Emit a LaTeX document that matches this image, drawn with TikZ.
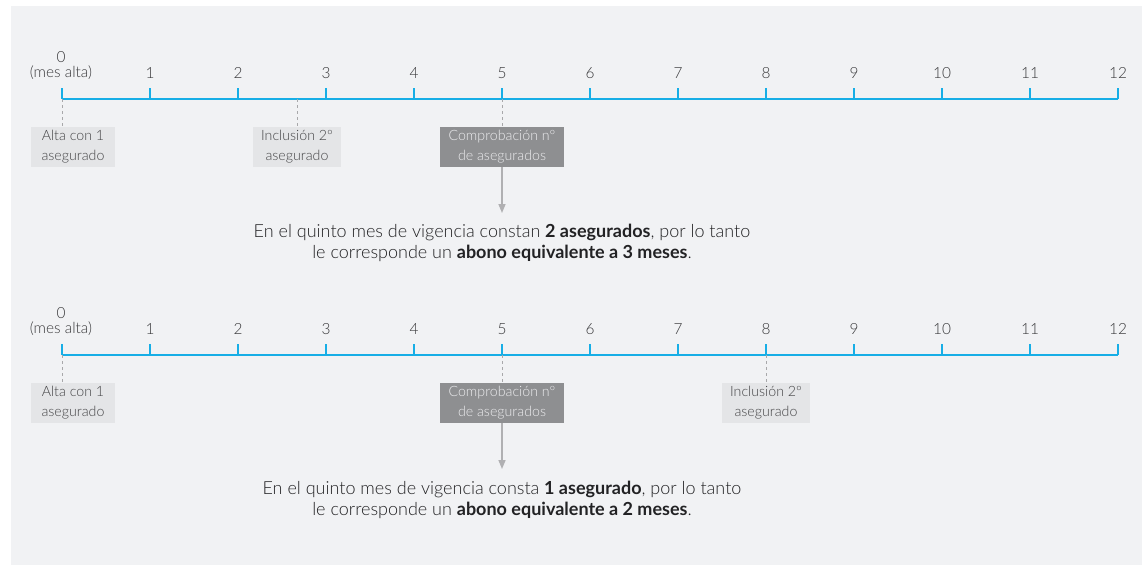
\documentclass[tikz,border=0pt]{standalone}
\usepackage{fontspec}
\setmainfont{Lato}[UprightFont=* Light, BoldFont=* Bold]
\usetikzlibrary{arrows.meta}
\definecolor{bg}{HTML}{F1F2F4}
\definecolor{tl}{HTML}{17AEE6}
\definecolor{lbox}{HTML}{E4E5E7}
\definecolor{dbox}{HTML}{8E8F91}
\definecolor{txt}{HTML}{222224}
\definecolor{ntxt}{HTML}{38383A}
\definecolor{btxt}{HTML}{444446}
\definecolor{dtxt}{HTML}{EDEDEF}
\definecolor{dashc}{HTML}{A8A8AA}
\definecolor{arrc}{HTML}{B0B0B2}
\tikzset{
  tline/.style={tl, line width=2pt},
  tick/.style={tl, line width=2pt},
  num/.style={text=ntxt, font=\fontsize{15.4}{17}\selectfont, inner sep=0pt},
  lightbox/.style={fill=lbox, text=btxt, minimum height=40pt, inner sep=0pt, align=center, font=\fontsize{14.2}{20}\selectfont},
  darkbox/.style={fill=dbox, text=dtxt, minimum height=40pt, inner sep=0pt, align=center, font=\fontsize{14.2}{20}\selectfont},
  guide/.style={dashc, line width=1pt, dash pattern=on 3pt off 3pt},
  pointer/.style={arrc, line width=1.5pt, -{Triangle[width=7pt,length=9pt]}},
  sentence/.style={text=txt, align=center, inner sep=0pt, font=\fontsize{18}{21}\selectfont}
}
\begin{document}
\begin{tikzpicture}[x=1pt,y=-1pt]
\useasboundingbox (0,0) rectangle (1142,565);
\fill[white] (0,0) rectangle (1142,565);
\fill[bg] (11,6) rectangle (1142,565);

\foreach \p/\dy in {a/0,b/256}{
  \begin{scope}[shift={(0,\dy)}]
    \foreach \i in {0,...,12}{
      \coordinate (\p-\i) at ({62+88*\i},99);
      \coordinate (\p-top\i) at ({62+88*\i},88);
      \draw[tick] (\p-\i) -- (\p-top\i);
    }
    \foreach \i in {1,...,12}{
      \node[num] (\p-n\i) at ({62+88*\i},73) {\i};
    }
    \node[num] (\p-n0) at (61,57) {0};
    \node[num] (\p-mes) at (61,73) {(mes alta)};
    \draw[tline] (\p-0) -- (\p-12);
    \node[lightbox, minimum width=84pt] (\p-alta) at (73,147) {Alta con 1\\asegurado};
    \draw[guide] (\p-0) -- (\p-0 |- \p-alta.north);
    \node[darkbox, minimum width=124pt] (\p-comp) at (502,147) {Comprobación nº\\de asegurados};
    \draw[guide] (\p-5) -- (\p-comp.north);
    \coordinate (\p-end) at (502,213);
    \draw[pointer] (\p-comp.south) -- (\p-end);
  \end{scope}
}

% first timeline specifics
\coordinate (a-inc) at (297,99);
\node[lightbox, minimum width=88pt] (a-incl) at (297,147) {Inclusión 2º\\asegurado};
\draw[guide] (a-inc) -- (a-incl.north);
\node[sentence] (a-text) at (502,242.5) {En el quinto mes de vigencia constan \textbf{2 asegurados}, por lo tanto\\le corresponde un \textbf{abono equivalente a 3 meses}.};

% second timeline specifics
\node[lightbox, minimum width=88pt] (b-incl) at (766,403) {Inclusión 2º\\asegurado};
\draw[guide] (b-8) -- (b-incl.north);
\node[sentence] (b-text) at (502,499.5) {En el quinto mes de vigencia consta \textbf{1 asegurado}, por lo tanto\\le corresponde un \textbf{abono equivalente a 2 meses}.};
\end{tikzpicture}
\end{document}
